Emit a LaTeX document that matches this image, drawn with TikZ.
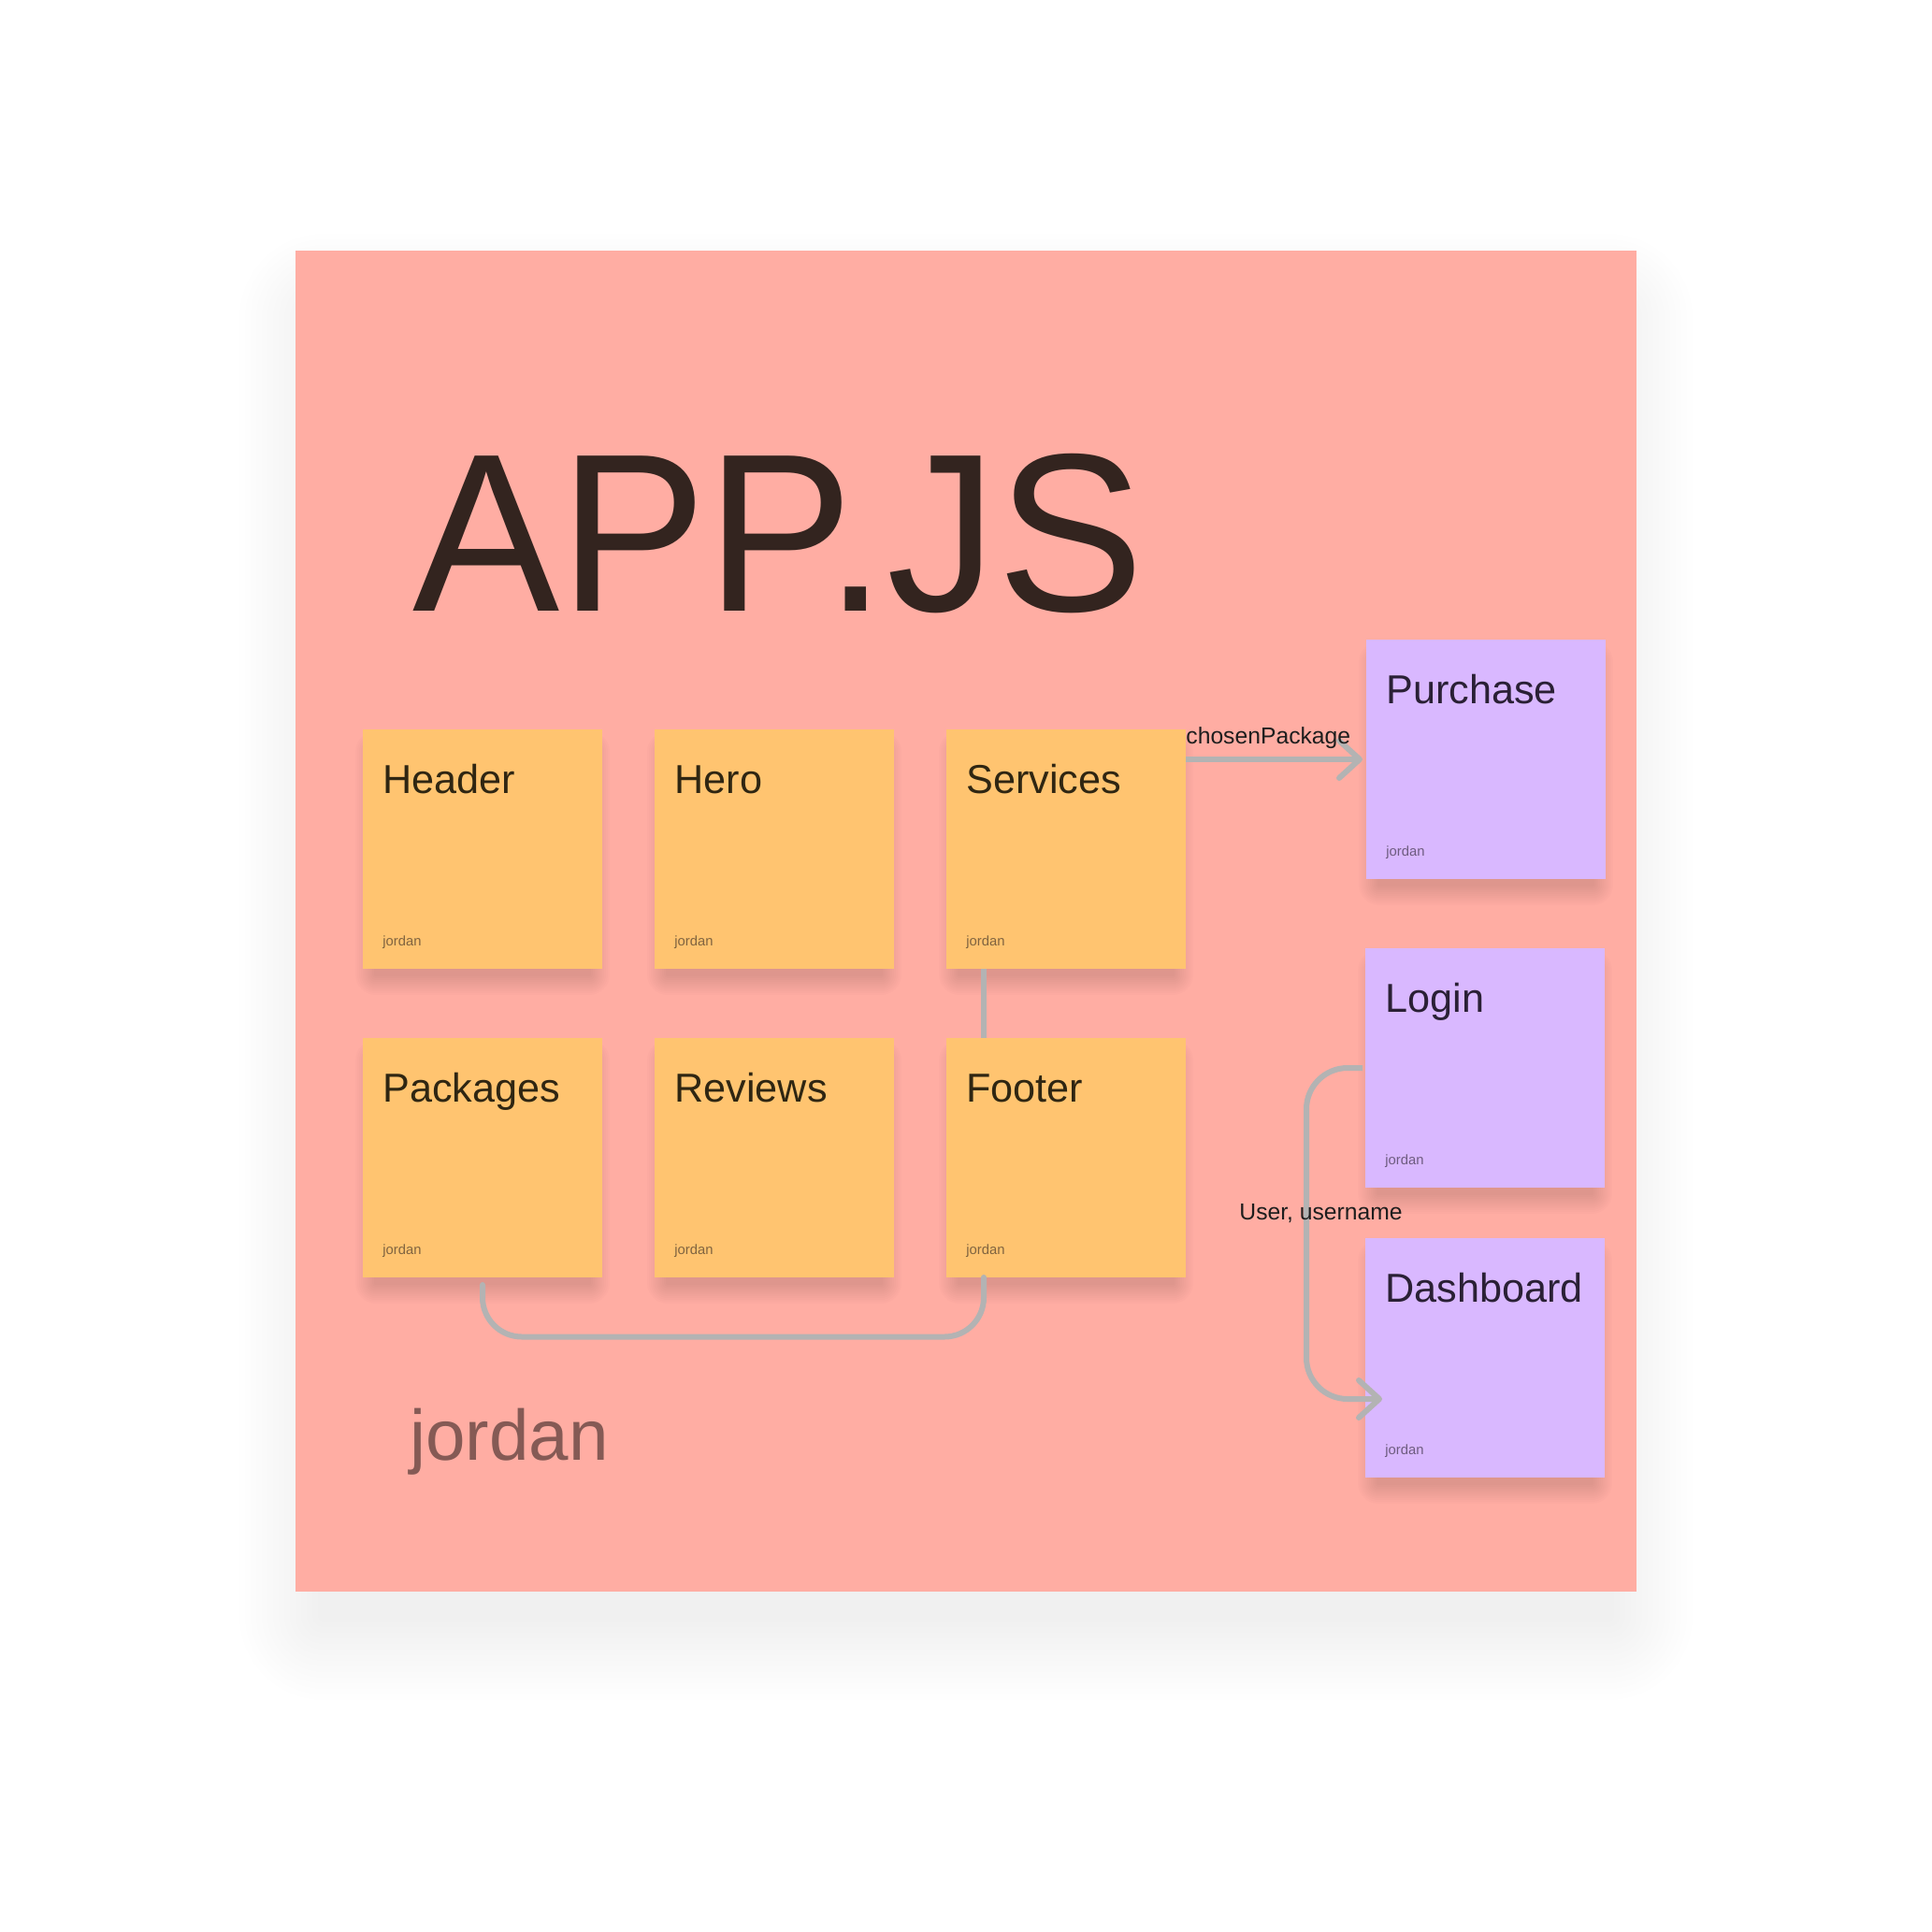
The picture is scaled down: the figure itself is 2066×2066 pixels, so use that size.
\documentclass[tikz,border=0pt]{standalone}
\usepackage{fontspec}
\setmainfont{Liberation Sans}
\usetikzlibrary{calc,arrows.meta}
\definecolor{pinkbg}{HTML}{FFADA3}
\definecolor{orangenote}{HTML}{FFC470}
\definecolor{purplenote}{HTML}{D9B8FF}
\definecolor{conngray}{HTML}{B3B3B3}
\definecolor{titlecol}{HTML}{33241F}
\definecolor{orangetext}{HTML}{2F2612}
\definecolor{purpletext}{HTML}{2A2035}
\definecolor{orangesmall}{HTML}{806440}
\definecolor{purplesmall}{HTML}{6E5C80}
\definecolor{bigjordan}{HTML}{855A55}
\definecolor{labeltext}{HTML}{1E1E1E}
\tikzset{
  stickybox/.style={rectangle, minimum width=128pt, minimum height=128pt, inner sep=0pt, outer sep=0pt, anchor=north west, draw=none},
  stickytitle/.style={inner sep=0pt, anchor=base west, font=\fontsize{21.6pt}{26pt}\selectfont},
  stickyby/.style={inner sep=0pt, anchor=base west, font=\fontsize{7.4pt}{9pt}\selectfont},
  conn/.style={draw=conngray, line width=3pt},
  connlabel/.style={inner sep=0pt, anchor=base west, text=labeltext, font=\fontsize{12.35pt}{14pt}\selectfont},
  barbtip/.style={-{Straight Barb[length=11pt,width=20pt,round]}}
}
% name, x, y, fill, title, title colour, small colour
\newcommand{\stickynote}[7]{%
  \foreach \sh in {2,4,...,22}{%
    \pgfmathsetmacro\rr{\sh*0.5}%
    \fill[black,opacity=0.011,rounded corners=\rr pt] (#2+14-\sh,#3+24-\sh) rectangle (#2+242+\sh,#3+262+\sh);
  }%
  \node[stickybox,fill=#4] (#1) at (#2,#3) {};
  \node[stickytitle,text=#6] (#1-title) at ($(#1.north west)+(21,68)$) {#5};
  \node[stickyby,text=#7] (#1-by) at ($(#1.north west)+(21,231)$) {jordan};
}
\begin{document}
\begin{tikzpicture}[x=0.5pt,y=-0.5pt]
\useasboundingbox (0,0) rectangle (2066,2066);
\fill[white] (0,0) rectangle (2066,2066);
% frame shadow
\foreach \sh in {6,12,...,90}{%
  \pgfmathsetmacro\rr{\sh*0.5}%
  \fill[black,opacity=0.0055,rounded corners=\rr pt] (346-\sh,340-\sh) rectangle (1720+\sh,1728+\sh);
}
\fill[pinkbg] (316,268) rectangle (1750,1702);
\node[inner sep=0pt, anchor=base west, text=titlecol, xscale=0.978, font=\fontsize{120.5pt}{130pt}\selectfont] (title) at (441,653) {APP.JS};
\node[inner sep=0pt, anchor=base west, text=bigjordan, font=\fontsize{38.2pt}{44pt}\selectfont] (owner) at (438,1561) {jordan};

\stickynote{Header}{388}{780}{orangenote}{Header}{orangetext}{orangesmall}
\stickynote{Hero}{700}{780}{orangenote}{Hero}{orangetext}{orangesmall}
\stickynote{Services}{1012}{780}{orangenote}{Services}{orangetext}{orangesmall}
\stickynote{Packages}{388}{1110}{orangenote}{Packages}{orangetext}{orangesmall}
\stickynote{Reviews}{700}{1110}{orangenote}{Reviews}{orangetext}{orangesmall}
\stickynote{Footer}{1012}{1110}{orangenote}{Footer}{orangetext}{orangesmall}
\stickynote{Purchase}{1461}{684}{purplenote}{Purchase}{purpletext}{purplesmall}
\stickynote{Login}{1460}{1014}{purplenote}{Login}{purpletext}{purplesmall}
\stickynote{Dashboard}{1460}{1324}{purplenote}{Dashboard}{purpletext}{purplesmall}

% connectors
\draw[conn, barbtip] (Services.east |- Purchase.west) -- ($(Purchase.west)+(-4,0)$);
\draw[conn] ($(Services.south west)+(40,0)$) -- ($(Footer.north west)+(40,0)$);
\draw[conn, line cap=round, rounded corners=21pt] ($(Packages.south)+(0,8)$) |- ($(Footer.south west)+(40,63.5)$) -- ($(Footer.south west)+(40,0)$);
\draw[conn, barbtip, rounded corners=22pt] ($(Login.west)+(-3,0)$) -- ++(-60,0) |- ($(Dashboard.north west)+(18,172)$);

\node[connlabel] (lbl1) at (1268,795) {chosenPackage};
\node[connlabel] (lbl2) at (1325,1304) {User, username};
\end{tikzpicture}
\end{document}
